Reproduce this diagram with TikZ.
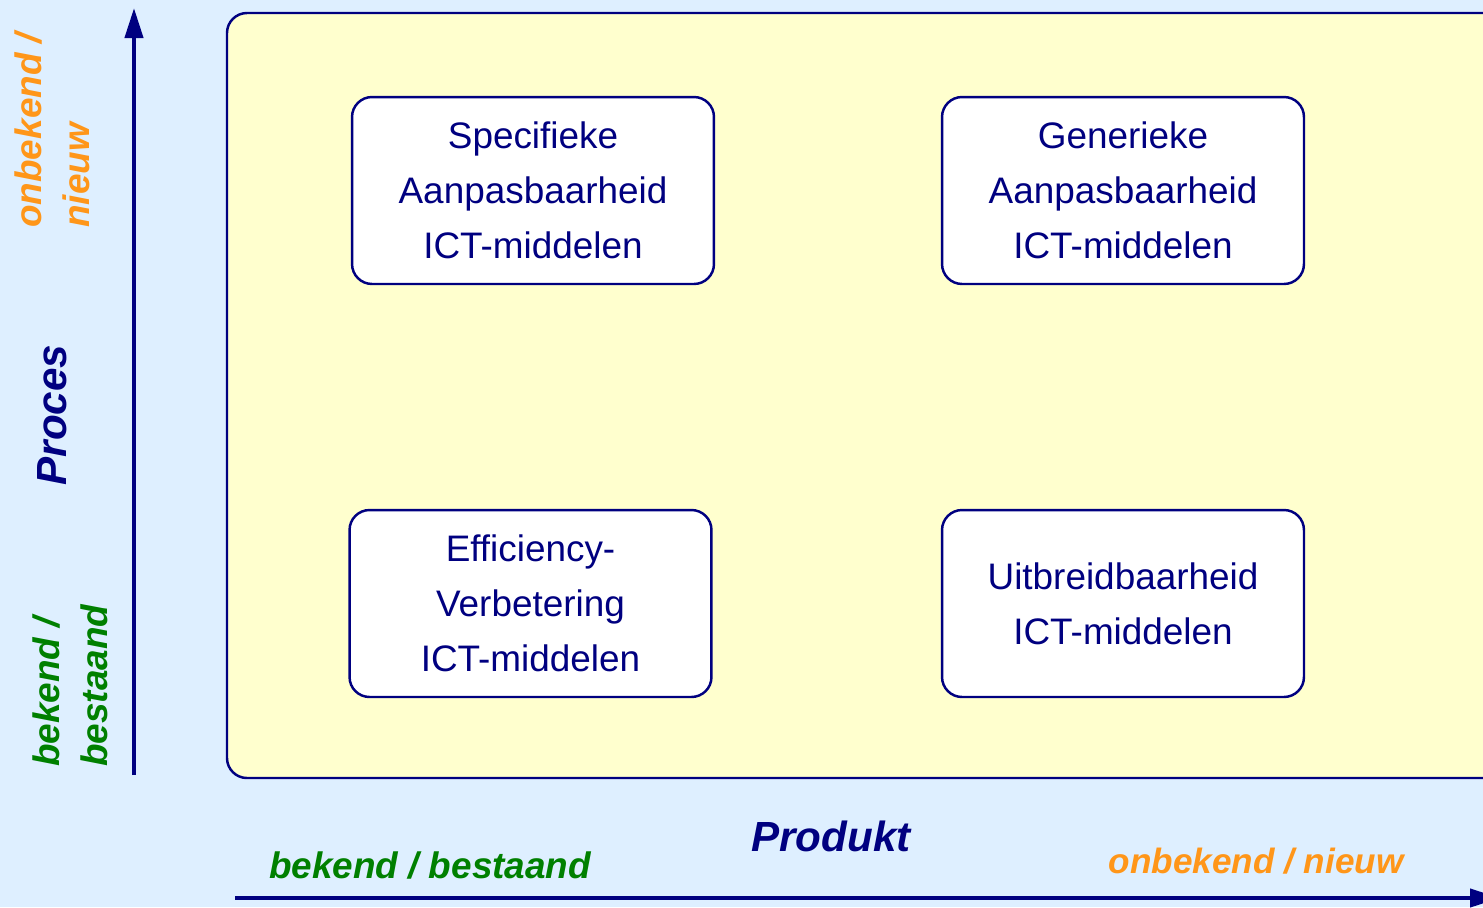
\documentclass[tikz,border=0pt]{standalone}
\usepackage{fontspec}
\setmainfont{Liberation Sans}
\usetikzlibrary{arrows.meta, positioning}
\definecolor{navy}{RGB}{0,0,128}
\definecolor{oranje}{RGB}{255,150,25}
\definecolor{groen}{RGB}{0,128,0}
\definecolor{lichtblauw}{RGB}{222,239,255}
\definecolor{lichtgeel}{RGB}{255,255,206}

\begin{document}
\begin{tikzpicture}[x=0.02cm, y=-0.02cm, >={Triangle[length=0.6cm, width=0.36cm]},
      every node/.style={inner sep=0pt},
      vak/.style={draw=navy, line width=1.4pt, fill=white, rounded corners=0.4cm,
                  minimum width=7.24cm, minimum height=3.74cm, align=center,
                  text=navy, font=\fontsize{21}{31.3}\selectfont},
      as/.style={draw=navy, line width=2.3pt, ->},
      astekst/.style={font=\fontsize{21}{27.3}\selectfont\bfseries\itshape, align=left},
      astitel/.style={font=\fontsize{24}{28}\selectfont\bfseries\itshape, text=navy}]

    % achtergrond
    \fill[lichtblauw] (0,0) rectangle (1483,907);
    \useasboundingbox (0,0) rectangle (1483,907);
    \clip (0,0) rectangle (1483,907);
    \filldraw[fill=lichtgeel, draw=navy, line width=1.4pt, rounded corners=0.4cm]
      (227,13) rectangle (1520,778);

    % kwadranten
    \node[vak] (spec) at (533,190.5) {Specifieke\\Aanpasbaarheid\\ICT-middelen};
    \node[vak] (gen) at (1123,190.5) {Generieke\\Aanpasbaarheid\\ICT-middelen};
    \node[vak] (eff) at (530.5,603.5) {Efficiency-\\Verbetering\\ICT-middelen};
    \node[vak] (uitb) at (1123,603.5) {Uitbreidbaarheid\\ICT-middelen};

    % assen
    \coordinate (yvan) at (134,775);
    \coordinate (ynaar) at (134,8);
    \coordinate (xvan) at (235,898);
    \coordinate (xnaar) at (1500,898);
    \draw[as] (yvan) -- (ynaar);
    \draw[as] (xvan) -- (xnaar);

    % as-teksten
    \node[astekst, text=oranje, rotate=90, anchor=west] (ynieuw) at (52,228) {onbekend /\\nieuw};
    \node[astekst, text=groen, rotate=90, anchor=west] (ybekend) at (70,767) {bekend /\\bestaand};
    \node[astitel, rotate=90] (proces) at (52,415) {Proces};
    \node[astitel] (produkt) at (831,836) {Produkt};
    \node[astekst, text=groen] (xbekend) at (430,865) {bekend / bestaand};
    \node[astekst, text=oranje, font=\fontsize{20}{24}\selectfont\bfseries\itshape] (xnieuw) at (1256,861) {onbekend / nieuw};
  \end{tikzpicture}
\end{document}
